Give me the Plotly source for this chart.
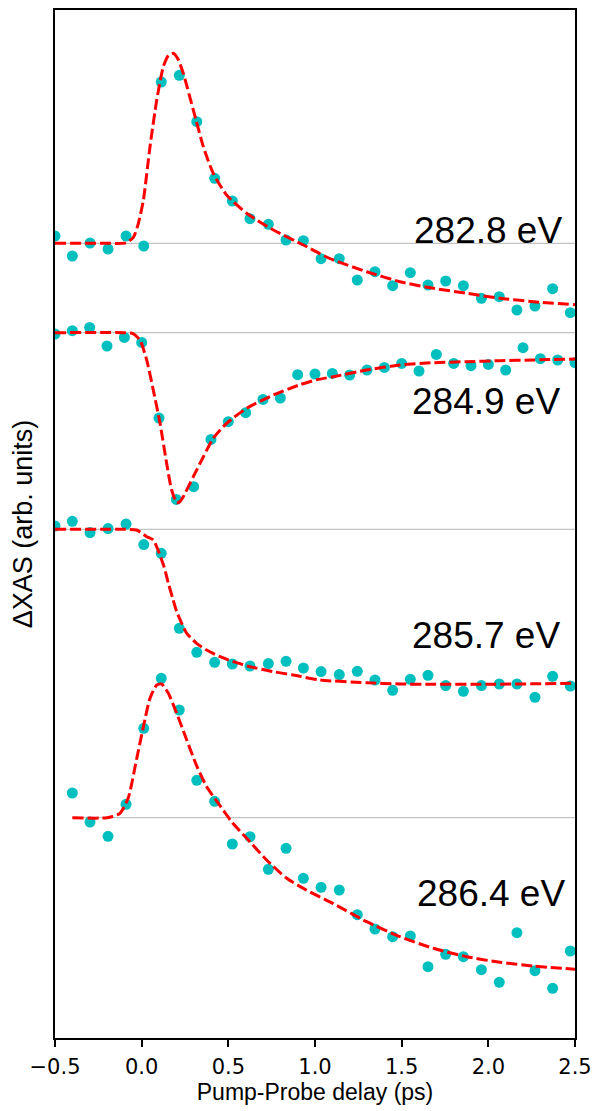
import plotly.graph_objects as go

# ---------------- data ----------------
energies = ["282.8 eV", "284.9 eV", "285.7 eV", "286.4 eV"]
offsets = [7.947, 7.053, 5.087, 2.203]

delay_a = [-0.50, -0.40, -0.298, -0.194, -0.090, 0.012, 0.113, 0.217, 0.318, 0.421,
           0.523, 0.625, 0.731, 0.833, 0.933, 1.035, 1.140, 1.244, 1.346, 1.448,
           1.550, 1.652, 1.754, 1.856, 1.960, 2.063, 2.165, 2.269, 2.371, 2.473]
delay_b = [-0.5, -0.4, -0.3, -0.2, -0.1, 0.0, 0.1, 0.2, 0.3, 0.4, 0.5, 0.6, 0.7, 0.8,
           0.9, 1.0, 1.1, 1.2, 1.3, 1.4, 1.5, 1.6, 1.7, 1.8, 1.9, 2.0, 2.1, 2.2, 2.3,
           2.4, 2.5]

s1_x = delay_a
s1_y = [0.073, -0.127, 0.003, -0.057, 0.073, -0.027, 1.613, 1.68, 1.216, 0.65,
        0.423, 0.246, 0.19, 0.033, 0.026, -0.154, -0.154, -0.367, -0.284, -0.424,
        -0.294, -0.417, -0.377, -0.424, -0.55, -0.534, -0.667, -0.627, -0.454, -0.694]

s2_x = delay_b
s2_y = [-0.013, 0.02, 0.053, -0.133, -0.047, -0.097, -0.853, -1.667, -1.54, -1.067,
        -0.89, -0.80, -0.667, -0.653, -0.42, -0.413, -0.407, -0.423, -0.373, -0.347,
        -0.307, -0.383, -0.217, -0.307, -0.33, -0.317, -0.373, -0.15, -0.26, -0.273,
        -0.30]

s3_x = delay_a
s3_y = [0.033, 0.08, -0.033, 0.007, 0.053, -0.153, -0.24, -0.99, -1.23, -1.33,
        -1.347, -1.367, -1.343, -1.32, -1.387, -1.423, -1.453, -1.42, -1.507, -1.61,
        -1.50, -1.46, -1.563, -1.62, -1.563, -1.547, -1.547, -1.68, -1.47, -1.567]

s4_x = delay_a[1:]
s4_y = [0.247, -0.043, -0.186, 0.134, 0.894, 1.394, 1.077, 0.374, 0.164,
        -0.263, -0.19, -0.516, -0.306, -0.606, -0.696, -0.723, -0.97, -1.113, -1.19,
        -1.183, -1.49, -1.366, -1.39, -1.52, -1.646, -1.15, -1.53, -1.706, -1.333]

# fit curves
f1_x = [-0.5, -0.2, -0.09, -0.048, -0.019, 0.01, 0.048, 0.087, 0.125, 0.155, 0.183,
        0.21, 0.24, 0.298, 0.356, 0.413, 0.49, 0.606, 0.76, 0.933, 1.03, 1.106, 1.298,
        1.49, 1.683, 1.875, 2.067, 2.26, 2.5]
f1_y = [0.0, 0.0, 0.005, 0.06, 0.2, 0.433, 0.966, 1.433, 1.766, 1.88, 1.9,
        1.84, 1.70, 1.333, 0.966, 0.70, 0.483, 0.30, 0.133, -0.017, -0.105, -0.167, -0.284,
        -0.384, -0.45, -0.50, -0.55, -0.584, -0.614]

f2_x = [-0.5, -0.1, -0.05, -0.01, 0.029, 0.067, 0.106, 0.144, 0.173, 0.202, 0.22,
        0.24, 0.298, 0.356, 0.413, 0.49, 0.606, 0.76, 0.913, 1.01, 1.106, 1.298, 1.49,
        1.683, 1.875, 2.067, 2.26, 2.5]
f2_y = [0.0, 0.0, -0.01, -0.073, -0.273, -0.573, -0.906, -1.306, -1.573, -1.70, -1.69,
        -1.64, -1.44, -1.24, -1.056, -0.906, -0.756, -0.623, -0.52, -0.47, -0.44, -0.373,
        -0.323, -0.30, -0.29, -0.28, -0.273, -0.263]

f3_x = [-0.5, -0.1, -0.029, 0.029, 0.067, 0.129, 0.154, 0.179, 0.202, 0.231, 0.26,
        0.317, 0.375, 0.452, 0.529, 0.625, 0.76, 0.875, 1.029, 1.298, 1.49, 1.683, 2.0,
        2.5]
f3_y = [0.0, 0.0, -0.007, -0.074, -0.107, -0.374, -0.54, -0.69, -0.824, -0.94, -1.04,
        -1.14, -1.207, -1.274, -1.324, -1.374, -1.424, -1.457, -1.507, -1.534, -1.547,
        -1.55, -1.55, -1.54]

f4_x = [-0.4, -0.2, -0.125, -0.077, -0.03, 0.01, 0.048, 0.087, 0.115, 0.154, 0.202,
        0.26, 0.317, 0.375, 0.452, 0.523, 0.606, 0.721, 0.837, 0.952, 1.106, 1.298, 1.49,
        1.683, 1.875, 2.067, 2.26, 2.5]
f4_y = [0.0, 0.0, 0.044, 0.2, 0.58, 0.91, 1.194, 1.327, 1.337, 1.244, 1.044,
        0.777, 0.52, 0.31, 0.12, -0.05, -0.206, -0.423, -0.606, -0.725, -0.86, -1.04,
        -1.19, -1.306, -1.39, -1.446, -1.483, -1.516]

label_x = [2.435, 2.423, 2.423, 2.452]
label_y = [8.08, 6.363, 4.03, 1.447]

x_ticks = [-0.5, 0.0, 0.5, 1.0, 1.5, 2.0, 2.5]
x_ticktext = ["\u22120.5", "0.0", "0.5", "1.0", "1.5", "2.0", "2.5"]

points = [(s1_x, s1_y), (s2_x, s2_y), (s3_x, s3_y), (s4_x, s4_y)]
fits = [(f1_x, f1_y), (f2_x, f2_y), (f3_x, f3_y), (f4_x, f4_y)]

# ---------------- figure ----------------
fig = go.Figure()

# baselines
for (px, _), off in zip(points, offsets):
    fig.add_trace(go.Scatter(x=[px[0], 2.5], y=[off, off], mode="lines",
                             line=dict(color="#b4b4b4", width=1),
                             hoverinfo="skip", showlegend=False))

for (px, py), off, name in zip(points, offsets, energies):
    fig.add_trace(go.Scatter(x=px, y=[v + off for v in py], mode="markers",
                             marker=dict(color="#00BFBF", size=11, line=dict(width=0)),
                             name=name, showlegend=False))

for (fx, fy), off, name in zip(fits, offsets, energies):
    fig.add_trace(go.Scatter(x=fx, y=[v + off for v in fy], mode="lines",
                             line=dict(color="#FF0000", width=3, dash="11px,4px",
                                       shape="spline", smoothing=0.6),
                             name=name + " fit", showlegend=False))

for lx, ly, name in zip(label_x, label_y, energies):
    fig.add_annotation(x=lx, y=ly, xref="x", yref="y", text=name, showarrow=False,
                       xanchor="right", yanchor="middle",
                       font=dict(family="Liberation Sans, Arial", size=37, color="black"))

fig.update_layout(
    width=596, height=1103,
    margin=dict(l=47, r=29, t=2, b=73, autoexpand=False),
    plot_bgcolor="white", paper_bgcolor="white",
    showlegend=False,
    xaxis=dict(range=[-0.5, 2.5], tickvals=x_ticks, ticktext=x_ticktext,
               ticks="outside", ticklen=7, tickwidth=1.5, tickcolor="black",
               ticklabelstandoff=2,
               showline=True, linecolor="black", linewidth=1.5, mirror=True,
               showgrid=False, zeroline=False, automargin=False,
               tickfont=dict(family="DejaVu Sans", size=21, color="black"),
               title=dict(text="Pump-Probe delay (ps)", standoff=6,
                          font=dict(family="Liberation Sans, Arial", size=23, color="black"))),
    yaxis=dict(range=[0, 10.28], showticklabels=False, ticks="",
               showline=True, linecolor="black", linewidth=1.5, mirror=True,
               showgrid=False, zeroline=False, automargin=False,
               title=dict(text="\u0394XAS (arb. units)", standoff=15,
                          font=dict(family="Liberation Sans, Arial", size=27, color="black"))),
)

fig.write_html("out.html")
